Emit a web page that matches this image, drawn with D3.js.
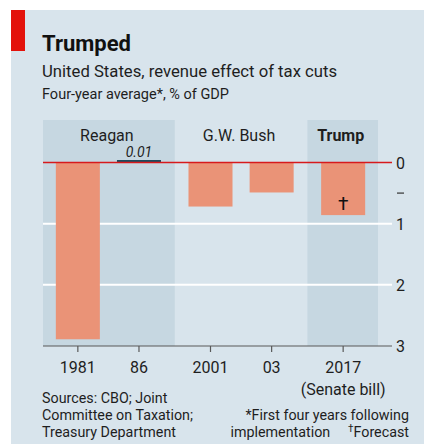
<!DOCTYPE html>
<html>
<head>
<meta charset="utf-8">
<script src="https://cdn.jsdelivr.net/npm/d3@7"></script>
<style>
  body { margin: 0; background: #fff; }
  svg { display: block; font-family: "Roboto", sans-serif; }
</style>
</head>
<body>
<svg id="chart" width="424" height="446"></svg>
<script>
// data
const groups = ["Reagan", "G.W. Bush", "Trump"];
const years = ["1981", "86", "2001", "03", "2017"];
const yearGroup = ["Reagan", "Reagan", "G.W. Bush", "G.W. Bush", "Trump"];
const effect = [-2.89, 0.01, -0.72, -0.49, -0.86]; // % of GDP, negative = revenue loss
const yTicks = [0, 1, 2, 3];

const svg = d3.select("#chart");
const W = 424, H = 446;

// panel + red tag
svg.append("rect").attr("x", 11).attr("y", 10).attr("width", W - 11).attr("height", 434).attr("fill", "#d8e4ec");
svg.append("rect").attr("x", 11).attr("y", 10).attr("width", 14).attr("height", 41).attr("fill", "#e3120b");

svg.append("text").attr("x", 42).attr("y", 51).attr("font-size", 22).attr("font-weight", 700).attr("fill", "#111").text("Trumped");
svg.append("text").attr("x", 42).attr("y", 77).attr("font-size", 16.7).attr("fill", "#1e1e1e").text("United States, revenue effect of tax cuts");
svg.append("text").attr("x", 42).attr("y", 99).attr("font-size", 14.5).attr("fill", "#1e1e1e").text("Four-year average*, % of GDP");

// --- layout ---
const plot = { left: 43, right: 378, top: 120, zero: 162.5, bottom: 346, axisEnd: 392 };
const groupGap = 0.17, half = 0.57;

// slot position of each bar: consecutive in a group, extra gap between groups
const pos = years.map((y, i) => i + groups.indexOf(yearGroup[i]) * groupGap);
const data = years.map((y, i) => ({ year: y, group: yearGroup[i], value: effect[i], p: pos[i] }));

const x = d3.scaleLinear()
  .domain([d3.min(pos) - half, d3.max(pos) + half])
  .range([plot.left, plot.right]);
const y = d3.scaleLinear().domain([0, -3]).range([plot.zero, plot.bottom]);
const step = x(1) - x(0);
const barW = step * 0.72;

// group bands: edges half way between neighbouring groups
const groupExt = groups.map(g => {
  const ps = data.filter(d => d.group === g).map(d => d.p);
  return { g, lo: d3.min(ps), hi: d3.max(ps) };
});
groupExt.forEach((e, i) => {
  e.x0 = i === 0 ? x(e.lo - half) : (x(groupExt[i - 1].hi) + x(e.lo)) / 2;
  e.x1 = i === groups.length - 1 ? x(e.hi + half) : (x(e.hi) + x(groupExt[i + 1].lo)) / 2;
});

svg.append("g").selectAll("rect")
  .data(groupExt.filter((e, i) => i !== 1))
  .join("rect")
  .attr("x", d => d.x0).attr("width", d => d.x1 - d.x0)
  .attr("y", plot.top).attr("height", plot.bottom - plot.top)
  .attr("fill", "#c6d7e1");

svg.append("g").selectAll("text")
  .data(groupExt)
  .join("text")
  .attr("x", d => (d.x0 + d.x1) / 2 - 2).attr("y", 141)
  .attr("text-anchor", "middle").attr("font-size", 16)
  .attr("font-weight", d => d.g === "Trump" ? 700 : 400)
  .attr("fill", "#1e1e1e")
  .text(d => d.g);

// gridlines at 1, 2
svg.append("g").selectAll("line")
  .data(yTicks.filter(t => t > 0 && t < 3))
  .join("line")
  .attr("x1", plot.left).attr("x2", plot.axisEnd)
  .attr("y1", t => y(-t)).attr("y2", t => y(-t))
  .attr("stroke", "#fff").attr("stroke-width", 2);

// bars
svg.append("g").selectAll("rect")
  .data(data.filter(d => d.value < 0))
  .join("rect")
  .attr("x", d => x(d.p) - barW / 2).attr("width", barW)
  .attr("y", y(0)).attr("height", d => y(d.value) - y(0))
  .attr("fill", "#ea9377");

// tiny positive value drawn as a dark line above zero
const pos86 = data.filter(d => d.value > 0);
svg.append("g").selectAll("rect")
  .data(pos86)
  .join("rect")
  .attr("x", d => x(d.p) - barW / 2).attr("width", barW)
  .attr("y", d => Math.min(y(d.value), y(0) - 2.5)).attr("height", 2.5)
  .attr("fill", "#1c4b5e");
svg.append("g").selectAll("text")
  .data(pos86)
  .join("text")
  .attr("x", d => x(d.p)).attr("y", 156.5)
  .attr("text-anchor", "middle").attr("font-size", 14).attr("font-style", "italic")
  .attr("fill", "#1e1e1e")
  .text(d => d3.format(".2f")(d.value));

// forecast dagger
svg.append("text")
  .attr("x", x(data[4].p)).attr("y", 210)
  .attr("text-anchor", "middle").attr("font-size", 19).attr("fill", "#111")
  .text("\u2020");

// zero line
svg.append("line")
  .attr("x1", plot.left).attr("x2", plot.axisEnd)
  .attr("y1", y(0)).attr("y2", y(0))
  .attr("stroke", "#d7191c").attr("stroke-width", 1.5);

// bottom axis
svg.append("line")
  .attr("x1", plot.left).attr("x2", plot.axisEnd)
  .attr("y1", y(-3)).attr("y2", y(-3))
  .attr("stroke", "#595959").attr("stroke-width", 1.2);
svg.append("g").selectAll("line")
  .data(data)
  .join("line")
  .attr("x1", d => x(d.p)).attr("x2", d => x(d.p))
  .attr("y1", y(-3)).attr("y2", y(-3) + 6)
  .attr("stroke", "#595959").attr("stroke-width", 1.2);
svg.append("g").selectAll("text")
  .data(data)
  .join("text")
  .attr("x", d => x(d.p)).attr("y", 373)
  .attr("text-anchor", "middle").attr("font-size", 16).attr("fill", "#1e1e1e")
  .text(d => d.year);
svg.append("text")
  .attr("x", x(data[4].p)).attr("y", 395)
  .attr("text-anchor", "middle").attr("font-size", 16).attr("fill", "#1e1e1e")
  .text("(Senate bill)");

// right y labels
svg.append("g").selectAll("text")
  .data(yTicks)
  .join("text")
  .attr("x", 396).attr("y", t => y(-t) + 6)
  .attr("font-size", 16).attr("fill", "#1e1e1e")
  .text(t => t);
svg.append("line")
  .attr("x1", 397).attr("x2", 404)
  .attr("y1", y(-0.5)).attr("y2", y(-0.5))
  .attr("stroke", "#333").attr("stroke-width", 1.2);

// footnotes
const src = ["Sources: CBO; Joint", "Committee on Taxation;", "Treasury Department"];
svg.append("g").selectAll("text")
  .data(src)
  .join("text")
  .attr("x", 42).attr("y", (d, i) => 403 + i * 17)
  .attr("font-size", 14.3).attr("fill", "#1e1e1e")
  .text(d => d);
svg.append("text")
  .attr("x", 409).attr("y", 420)
  .attr("text-anchor", "end").attr("font-size", 14.3).attr("fill", "#1e1e1e")
  .text("*First four years following");
const last = svg.append("text")
  .attr("x", 409).attr("y", 437)
  .attr("text-anchor", "end").attr("font-size", 14.3).attr("fill", "#1e1e1e")
  .style("white-space", "pre");
last.append("tspan").text("implementation     ");
last.append("tspan").attr("font-size", 10).attr("dy", -5).text("\u2020");
last.append("tspan").attr("dy", 5).text("Forecast");
</script>
</body>
</html>
